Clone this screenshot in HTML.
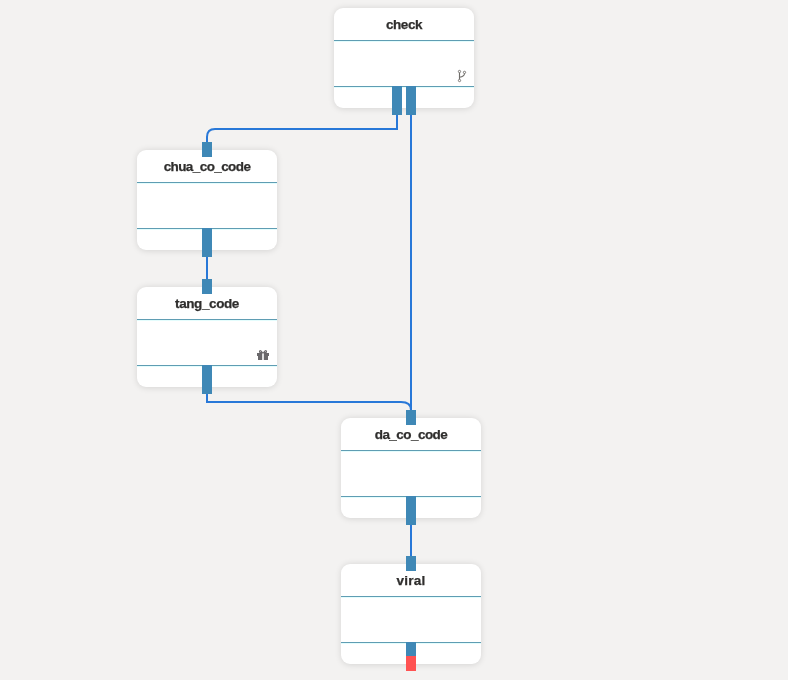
<!DOCTYPE html>
<html>
<head>
<meta charset="utf-8">
<style>
html,body{margin:0;padding:0;}
body{width:788px;height:680px;background:#f3f2f1;position:relative;overflow:hidden;font-family:"Liberation Sans",sans-serif;}
.node{position:absolute;width:140px;height:100px;background:#fff;border-radius:9px;box-shadow:0 0.5px 6px rgba(0,0,0,.12);}
.node .t{position:absolute;left:0;top:0;width:140px;text-align:center;font-weight:bold;font-size:13.5px;letter-spacing:-0.55px;color:#2f2e2d;line-height:16px;-webkit-text-stroke:0.25px #2f2e2d;will-change:transform;top:8.5px;}
.node .l1{position:absolute;left:0;top:32px;width:140px;height:1px;background:#5f9db3;border-bottom:1px solid #e4fdfd;}
.node .l2{position:absolute;left:0;top:78px;width:140px;height:1px;background:#5f9db3;border-bottom:1px solid #e4fdfd;}
.port{position:absolute;width:10px;background:#3f88b6;}
svg.w{position:absolute;left:0;top:0;}
</style>
</head>
<body>
<svg class="w" width="788" height="680" viewBox="0 0 788 680">
<g fill="none" stroke="#2878d8" stroke-width="2">
<path d="M397 115 V129 H215 Q207 129 207 137 V142"/>
<path d="M411 115 V410"/>
<path d="M207 257 V279"/>
<path d="M207 394 V402 H401 Q411 402 411 410"/>
<path d="M411 525 V556"/>
</g>
</svg>

<div class="node" style="left:334px;top:8px;"><div class="t" style="letter-spacing:-0.42px">check</div><div class="l1"></div><div class="l2"></div>
<svg style="position:absolute;left:120px;top:58px;" width="14" height="20" viewBox="0 0 14 20">
<g fill="none" stroke="#6f6c69" stroke-width="0.9">
<circle cx="5.5" cy="5.5" r="1.15"/>
<circle cx="10.5" cy="6.4" r="1.15"/>
<circle cx="5.5" cy="14.5" r="1.15"/>
<path d="M5.5 6.7 V13.3" stroke-width="1.15"/>
<path d="M10.5 7.6 Q10.5 10.6 5.5 11.2" stroke-width="1.1"/>
</g></svg>
</div>
<div class="node" style="left:137px;top:150px;"><div class="t" style="letter-spacing:-0.59px">chua_co_code</div><div class="l1"></div><div class="l2"></div></div>
<div class="node" style="left:137px;top:287px;"><div class="t" style="letter-spacing:-0.41px">tang_code</div><div class="l1"></div><div class="l2"></div>
<svg style="position:absolute;left:120px;top:63px;" width="12" height="10" viewBox="0 0 12 10">
<path fill="#6a686b" d="M0 3 H5.2 V10 H1 V6 H0 Z M6.8 3 H12 V6 H11 V10 H6.8 Z"/>
<path fill="none" stroke="#6a686b" stroke-width="1.25" d="M5.6 3 C4.8 1.6 4 0.6 3.2 0.7 C2.4 0.8 2.3 2 3 2.6 C3.6 3 4.6 3 5.6 3 M6.4 3 C7.2 1.6 8 0.6 8.8 0.7 C9.6 0.8 9.7 2 9 2.6 C8.4 3 7.4 3 6.4 3"/>
</svg>
</div>
<div class="node" style="left:341px;top:418px;"><div class="t" style="letter-spacing:-0.55px">da_co_code</div><div class="l1"></div><div class="l2"></div></div>
<div class="node" style="left:341px;top:564px;"><div class="t" style="letter-spacing:0.2px">viral</div><div class="l1"></div><div class="l2"></div></div>

<!-- ports -->
<div class="port" style="left:392px;top:86px;height:29px;"></div>
<div class="port" style="left:406px;top:86px;height:29px;"></div>
<div class="port" style="left:202px;top:142px;height:15px;"></div>
<div class="port" style="left:202px;top:228px;height:29px;"></div>
<div class="port" style="left:202px;top:279px;height:15px;"></div>
<div class="port" style="left:202px;top:365px;height:29px;"></div>
<div class="port" style="left:406px;top:410px;height:15px;"></div>
<div class="port" style="left:406px;top:496px;height:29px;"></div>
<div class="port" style="left:406px;top:556px;height:15px;"></div>
<div class="port" style="left:406px;top:642px;height:14px;"></div>
<div class="port" style="left:406px;top:656px;height:15px;background:#ff5252;"></div>
</body>
</html>
